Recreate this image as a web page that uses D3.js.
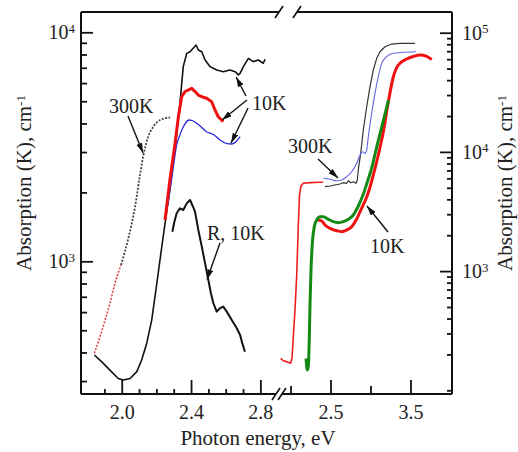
<!DOCTYPE html>
<html lang="en">
<head>
<meta charset="UTF-8">
<title>Absorption spectra</title>
<script src="https://d3js.org/d3.v7.min.js"></script>
<style>
    body { margin: 0; background: #fff; }
    svg { display: block; font-family: "Liberation Serif", "Times New Roman", serif; }
    .frame { stroke: #111; stroke-width: 2; fill: none; }
    .axis line { stroke: #111; stroke-width: 1.8; }
    .axis text { font-family: "Liberation Serif", "Times New Roman", serif; font-size: 20px; fill: #222; }
    .curve { fill: none; stroke-linejoin: round; }
    .note { font-size: 20px; fill: #222; }
    .pointer { stroke: #111; stroke-width: 1.4; }
</style>
</head>
<body>
<svg id="chart" width="518" height="452"></svg>
<script>
// ---- left panel (visible range) ----
const eL300Red = [1.842, 1.875, 1.904, 1.932, 1.961, 1.996];
const aL300Red = [397, 469, 554, 656, 802, 964];
const eL300 = [1.996, 2.038, 2.077, 2.106, 2.125, 2.153, 2.182, 2.221, 2.279];
const aL300 = [964, 1259, 1731, 2400, 2900, 3500, 3871, 4140, 4254];

const eL10Black = [1.842, 1.885, 1.932, 1.980, 2.009, 2.048, 2.087, 2.115, 2.144, 2.173, 2.202, 2.231,
    2.260, 2.279, 2.308, 2.336, 2.355, 2.375, 2.394, 2.429, 2.442, 2.462, 2.481, 2.510, 2.548, 2.586,
    2.625, 2.654, 2.673, 2.683, 2.702, 2.731, 2.759, 2.788, 2.817, 2.827];
const aL10Black = [390, 364, 335, 308, 303, 308, 330, 371, 438, 554, 796, 1155,
    1659, 2117, 3115, 4898, 7079, 8091, 8228, 8801, 8372, 8228, 7568, 7079, 6840, 6730,
    6840, 6730, 6517, 6622, 7079, 7697, 7447, 7568, 7328, 7628];

const eL10Red = [2.250, 2.279, 2.308, 2.327, 2.346, 2.365, 2.383, 2.404, 2.423, 2.442, 2.462, 2.490, 2.519, 2.538, 2.557, 2.586];
const aL10Red = [1515, 2300, 3285, 4279, 5233, 5510, 5598, 5690, 5510, 5320, 5233, 5152, 4978, 4581, 4279, 4074];

const eL10Blue = [2.267, 2.298, 2.317, 2.336, 2.365, 2.388, 2.406, 2.442, 2.490, 2.529, 2.567, 2.606, 2.636, 2.660, 2.683];
const aL10Blue = [1762, 2589, 3221, 3565, 3981, 4140, 4120, 3955, 3681, 3581, 3388, 3268, 3253, 3327, 3500];

const eLR10 = [2.292, 2.304, 2.317, 2.336, 2.355, 2.375, 2.394, 2.407, 2.423, 2.442, 2.462, 2.481,
    2.500, 2.515, 2.529, 2.548, 2.567, 2.586, 2.606, 2.635, 2.664, 2.683, 2.696, 2.711];
const aLR10 = [1347, 1489, 1621, 1703, 1675, 1791, 1853, 1762, 1648, 1371, 1159, 980,
    828, 724, 656, 603, 624, 634, 603, 554, 510, 477, 438, 403];

// ---- right panel (UV range) ----
const eRRedThin = [1.8775, 1.910, 1.9525, 2.0025, 2.019, 2.035, 2.056, 2.0775, 2.0975, 2.1125, 2.131, 2.16, 2.244, 2.369, 2.41];
const aRRedThin = [185, 177, 174, 169, 187, 282, 472, 927, 2438, 4345, 5176, 5457, 5521, 5559, 5559];

const eR300 = [2.431, 2.494, 2.556, 2.619, 2.66, 2.7025, 2.7225, 2.7525, 2.785, 2.819, 2.835, 2.8525,
    2.8775, 2.91, 2.9525, 2.994, 3.035, 3.0775, 3.119, 3.181, 3.265, 3.369, 3.556];
const aR300 = [5108, 5176, 5276, 5380, 5515, 5452, 5732, 5515, 5623, 5452, 5808, 7516,
    9728, 15270, 23920, 35230, 48630, 60960, 69280, 76310, 80350, 81500, 81500];

const eRBlue = [2.41, 2.494, 2.5775, 2.64, 2.7025, 2.765, 2.8275, 2.869, 2.9025, 2.931, 2.9525, 2.9725,
    3.015, 3.056, 3.0975, 3.14, 3.2025, 3.285, 3.41, 3.569];
const aRBlue = [6005, 5894, 5727, 5808, 6194, 6822, 8024, 9424, 10040, 9728, 10370, 13413,
    21088, 31015, 42758, 55340, 62910, 67140, 68480, 69280];

const eRGreen = [2.194, 2.21, 2.2225, 2.235, 2.244, 2.256, 2.2725, 2.2975, 2.3275, 2.369, 2.41, 2.4725,
    2.535, 2.5975, 2.66, 2.7225, 2.785, 2.8475, 2.906, 2.956, 3.015, 3.0775, 3.14, 3.194, 3.225];
const aRGreen = [185, 148, 158, 282, 537, 1021, 1709, 2358, 2686, 2859, 2859, 2720,
    2597, 2547, 2597, 2720, 2955, 3516, 4345, 5480, 7328, 10990, 16180, 22470, 27250];

const eRRed = [2.344, 2.39, 2.431, 2.494, 2.5775, 2.64, 2.7025, 2.765, 2.8275, 2.89, 2.9525, 2.994,
    3.035, 3.0975, 3.16, 3.2225, 3.285, 3.3475, 3.4525, 3.535, 3.619, 3.7025, 3.765];
const aRRed = [2686, 2632, 2438, 2286, 2183, 2141, 2212, 2358, 2735, 3381, 4183, 5076,
    6397, 9424, 14690, 26220, 42510, 53580, 60170, 63140, 65010, 63390, 59570];

// ticks
const xTicksL = [2.0, 2.4, 2.8];
const xMinorL = [1.9, 2.1, 2.2, 2.3, 2.5, 2.6, 2.7];
const xTicksR = [2.5, 3.5];
const xMinorR = [2.0, 3.0];
const yTicksL = [1e3, 1e4];
const yTicksR = [1e3, 1e4, 1e5];

// annotations: [label, energy, absorption]  /  arrows [e0, a0, e1, a1]
const notesL = [["300K", 1.927, 4446], ["10K", 2.752, 4579], ["R, 10K", 2.492, 1239]];
const arrowsL = [[2.036, 4310, 2.123, 2972], [2.717, 5271, 2.660, 6378], [2.723, 5064, 2.579, 4140],
    [2.729, 4671, 2.631, 3285], [2.567, 1202, 2.492, 833]];
const notesR = [["300K", 1.969, 9790], ["10K", 2.994, 1418]];
const arrowsR = [[2.344, 8717, 2.594, 6042], [3.219, 2128, 2.956, 3516]];

const zip = (xs, ys) => xs.map((x, i) => [x, ys[i]]);

const svg = d3.select("#chart");
const plotTop = 12, plotBottom = 394, plotLeft = 81, plotRight = 452;

const xL = d3.scaleLinear().domain([1.765, 2.896]).range([plotLeft, 277]);
const xR = d3.scaleLinear().domain([1.881, 4.019]).range([281, plotRight]);
const yL = d3.scaleLog().domain([263.4, 12265]).range([plotBottom, plotTop]);
const yR = d3.scaleLog().domain([93.1, 149200]).range([plotBottom, plotTop]);

svg.append("defs").append("marker")
    .attr("id", "arrow")
    .attr("viewBox", "0 0 10 6")
    .attr("refX", 10).attr("refY", 3)
    .attr("markerWidth", 10).attr("markerHeight", 6)
    .attr("markerUnits", "userSpaceOnUse")
    .attr("orient", "auto")
    .append("path").attr("d", "M0,0L10,3L0,6z").attr("fill", "#111");

// frame with broken top / bottom
const frame = svg.append("g").attr("class", "frame");
frame.append("line").attr("x1", plotLeft).attr("y1", plotTop).attr("x2", plotLeft).attr("y2", plotBottom);
frame.append("line").attr("x1", plotRight).attr("y1", plotTop).attr("x2", plotRight).attr("y2", plotBottom);
frame.append("line").attr("x1", plotLeft).attr("y1", plotTop).attr("x2", 279).attr("y2", plotTop);
frame.append("line").attr("x1", 297).attr("y1", plotTop).attr("x2", plotRight).attr("y2", plotTop);
frame.append("line").attr("x1", plotLeft).attr("y1", plotBottom).attr("x2", 276).attr("y2", plotBottom);
frame.append("line").attr("x1", 282).attr("y1", plotBottom).attr("x2", plotRight).attr("y2", plotBottom);
[[279, plotTop], [297, plotTop], [276, plotBottom], [282, plotBottom]].forEach(([cx, cy]) => {
    frame.append("line").attr("x1", cx - 4).attr("y1", cy + 6).attr("x2", cx + 4).attr("y2", cy - 6)
        .attr("stroke-width", 1.6);
});

function axisGroup(axis, tx, ty) {
    return svg.append("g").attr("class", "axis")
        .attr("transform", `translate(${tx},${ty})`)
        .call(axis)
        .call(g => g.select(".domain").remove())
        .call(g => g.attr("font-family", null).attr("font-size", null));
}

// x axes
axisGroup(d3.axisBottom(xL).tickValues(xTicksL).tickSize(-14).tickPadding(11).tickFormat(d3.format(".1f")), 0, plotBottom);
axisGroup(d3.axisBottom(xL).tickValues(xMinorL).tickSize(-5).tickFormat(""), 0, plotBottom);
axisGroup(d3.axisBottom(xR).tickValues(xTicksR).tickSize(-14).tickPadding(11).tickFormat(d3.format(".1f")), 0, plotBottom);
axisGroup(d3.axisBottom(xR).tickValues(xMinorR).tickSize(-8).tickFormat(""), 0, plotBottom);

// y axes
function minorDecades(lo, hi) {
    const out = [];
    for (let d = lo; d < hi; d *= 10) for (let k = 2; k <= 9; k++) out.push(d * k);
    return out;
}
function powerLabels(g) {
    g.selectAll(".tick text").each(function (d) {
        const t = d3.select(this).text("10");
        t.append("tspan").attr("dy", "-0.5em").attr("font-size", "13px").text(Math.round(Math.log10(d)));
    });
}
axisGroup(d3.axisLeft(yL).tickValues(yTicksL).tickSize(-12).tickPadding(6), plotLeft, 0).call(powerLabels);
axisGroup(d3.axisLeft(yL).tickValues(minorDecades(100, 1e4).filter(v => v >= 300)).tickSize(-6).tickFormat(""), plotLeft, 0);
axisGroup(d3.axisRight(yR).tickValues(yTicksR).tickSize(-12).tickPadding(10), plotRight, 0).call(powerLabels);
axisGroup(d3.axisRight(yR).tickValues([100].concat(minorDecades(100, 1e5))).tickSize(-5).tickFormat(""), plotRight, 0);

// axis titles
function yTitle(x) {
    const t = svg.append("text")
        .attr("transform", `translate(${x},183) rotate(-90)`)
        .attr("text-anchor", "middle")
        .attr("font-size", "21px").attr("fill", "#222")
        .text("Absorption (K), cm");
    t.append("tspan").attr("dy", "-0.5em").attr("font-size", "13px").text("-1");
}
yTitle(31);
yTitle(512);
svg.append("text")
    .attr("x", 258).attr("y", 445)
    .attr("text-anchor", "middle")
    .attr("font-size", "21px").attr("fill", "#222")
    .text("Photon energy, eV");

// curves
function curve(x, y, pts, color, width, shape, dash) {
    const line = d3.line().x(d => x(d[0])).y(d => y(d[1])).curve(shape || d3.curveLinear);
    svg.append("path").datum(pts)
        .attr("class", "curve")
        .attr("d", line)
        .attr("stroke", color)
        .attr("stroke-width", width)
        .attr("stroke-dasharray", dash || null);
}

curve(xL, yL, zip(eL300Red, aL300Red), "#e04848", 1.6, d3.curveMonotoneX, "2,1.5");
curve(xL, yL, zip(eL300, aL300), "#444", 1.8, d3.curveMonotoneX, "2,1.5");
curve(xL, yL, zip(eL10Black, aL10Black), "#111", 1.6);
curve(xL, yL, zip(eLR10, aLR10), "#111", 2);
curve(xL, yL, zip(eL10Blue, aL10Blue), "#2a2ad8", 1.3, d3.curveMonotoneX);
curve(xL, yL, zip(eL10Red, aL10Red), "#ee1111", 3);

curve(xR, yR, zip(eRRedThin, aRRedThin), "#ee1c1c", 1.6);
curve(xR, yR, zip(eR300, aR300), "#333", 1.2);
curve(xR, yR, zip(eRBlue, aRBlue), "#6464e6", 1.1, d3.curveMonotoneX);
curve(xR, yR, zip(eRRed, aRRed), "#ee1111", 3, d3.curveMonotoneX);
curve(xR, yR, zip(eRGreen, aRGreen), "#138a13", 3, d3.curveMonotoneX);

// annotations
function annotate(x, y, notes, arrows) {
    notes.forEach(([txt, e, a]) => {
        svg.append("text").attr("class", "note").attr("x", x(e)).attr("y", y(a)).text(txt);
    });
    arrows.forEach(([e0, a0, e1, a1]) => {
        svg.append("line").attr("class", "pointer")
            .attr("x1", x(e0)).attr("y1", y(a0))
            .attr("x2", x(e1)).attr("y2", y(a1))
            .attr("marker-end", "url(#arrow)");
    });
}
annotate(xL, yL, notesL, arrowsL);
annotate(xR, yR, notesR, arrowsR);
</script>
</body>
</html>
